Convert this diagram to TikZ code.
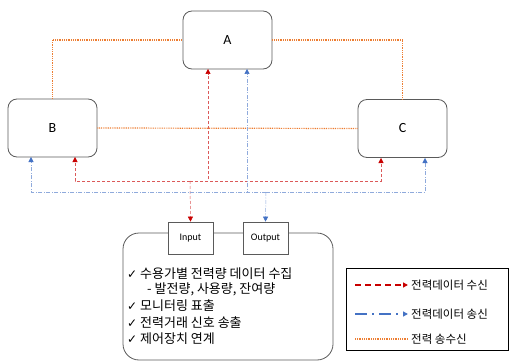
\documentclass[tikz,border=0pt]{standalone}
\usepackage{fontspec}
\setmainfont{Carlito}
\newfontfamily\kr{Noto Sans CJK KR}
\newfontfamily\sym{DejaVu Sans}
\usetikzlibrary{arrows.meta}
\definecolor{rcol}{RGB}{200,0,0}
\definecolor{bcol}{RGB}{68,114,196}
\definecolor{ocol}{RGB}{237,125,49}
\definecolor{gcol}{RGB}{90,90,90}
\tikzset{
  unitbox/.style={draw=gcol, line width=0.8pt, rounded corners=9pt, minimum width=89pt, minimum height=58pt, inner sep=0pt, font=\fontsize{14}{14}\selectfont},
  iobox/.style={draw=gcol, line width=0.7pt, fill=white, minimum width=45pt, minimum height=32pt, inner sep=0pt, font=\fontsize{10}{10}\selectfont},
  rarr/.style={-{Triangle[width=5pt,length=5pt,color=rcol]}},
  barr/.style={-{Triangle[width=5pt,length=5pt,color=bcol]}},
  rline/.style={draw=rcol!65, line width=0.5pt, dash pattern=on 3pt off 2pt, rarr},
  bline/.style={draw=bcol!60, line width=0.5pt, dash pattern=on 4pt off 1.5pt on 1pt off 1.5pt, barr},
  oline/.style={draw=ocol, line width=1.2pt, dash pattern=on 0.9pt off 0.9pt},
  ktext/.style={anchor=west, inner sep=0pt, font=\kr\fontsize{13}{13}\selectfont},
  ltext/.style={anchor=west, inner sep=0pt, font=\kr\fontsize{11.5}{11.5}\selectfont},
}
\newcommand{\chk}{{\sym\fontsize{12}{12}\selectfont ✓}}
\begin{document}
\begin{tikzpicture}[x=1pt,y=-1pt]
\useasboundingbox (0,0) rectangle (509,361);
% main units
\node[unitbox] (A) at (227.5,40) {A};
\node[unitbox] (B) at (52.5,128) {B};
\node[unitbox] (C) at (402.5,128.5) {C};
% power lines
\draw[oline] (B.north) |- (A.west);
\draw[oline] (A.east) -| (C.north);
\draw[oline] (B.east) -- (C.west);
% bottom box
\node[draw=gcol, line width=0.8pt, rounded corners=16pt, minimum width=210pt, minimum height=127pt, inner sep=0pt] (M) at (228,296.5) {};
\node[iobox] (inp) at (190.5,238) {Input};
\node[iobox] (out) at (265.5,238) {Output};
% junctions and targets
\coordinate (rj) at (190,181);
\coordinate (bj) at (266,192);
\coordinate (rA) at (208,69);
\coordinate (rB) at (75,157);
\coordinate (rC) at (381,158);
\coordinate (bA) at (247,69);
\coordinate (bB) at (31,157);
\coordinate (bC) at (425,158);
\draw[rline] (rj) -| (rA);
\draw[rline] (rj) -| (rB);
\draw[rline] (rj) -| (rC);
\draw[rline] (rj) -- (inp.north);
\draw[bline] (bj) -| (bA);
\draw[bline] (bj) -| (bB);
\draw[bline] (bj) -| (bC);
\draw[bline] (bj) -- (out.north);
% text
\node[ktext] (t1) at (127,274) {\chk\ 수용가별 전력량 데이터 수집};
\node[ktext] (t2) at (147,289) {- 발전량, 사용량, 잔여량};
\node[ktext] (t3) at (127,306) {\chk\ 모니터링 표출};
\node[ktext] (t4) at (127,323) {\chk\ 전력거래 신호 송출};
\node[ktext] (t5) at (127,339) {\chk\ 제어장치 연계};
% legend
\node[draw=black, line width=1pt, minimum width=162pt, minimum height=82pt, inner sep=0pt] (L) at (427,309) {};
\coordinate (l1a) at (355,285); \coordinate (l1b) at (408,285);
\coordinate (l2a) at (355,314); \coordinate (l2b) at (408,314);
\coordinate (l3a) at (355,339); \coordinate (l3b) at (408,339);
\draw[draw=rcol, line width=1.4pt, dash pattern=on 6pt off 4pt, rarr] (l1a) -- (l1b);
\draw[draw=bcol, line width=1.4pt, dash pattern=on 12pt off 5pt on 2pt off 5pt, barr] (l2a) -- (l2b);
\draw[oline] (l3a) -- (l3b);
\node[ltext] (lt1) at (411,285) {전력데이터 수신};
\node[ltext] (lt2) at (411,314) {전력데이터 송신};
\node[ltext] (lt3) at (411,339) {전력 송수신};
\end{tikzpicture}
\end{document}
